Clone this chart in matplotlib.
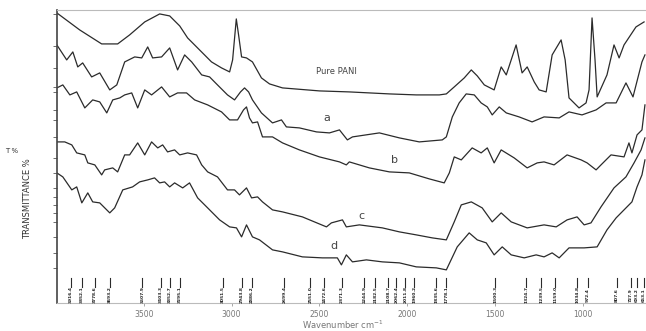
import matplotlib
matplotlib.use("Agg")
import matplotlib.pyplot as plt

# FTIR spectra, stacked
WN_PANI = [3994, 3864, 3739, 3648, 3580, 3494, 3409, 3352, 3295, 3250, 3182, 3114,
           3057, 3011, 2994, 2973, 2960, 2943, 2915, 2881, 2830, 2784, 2710, 2500,
           2330, 2102, 1949, 1818, 1778, 1733, 1676, 1636, 1602, 1562, 1506, 1466,
           1437, 1381, 1347, 1318, 1278, 1250, 1210, 1176, 1125, 1102, 1080, 1023,
           983, 966, 949, 932, 920, 864, 824, 795, 767, 699, 653]
T_PANI = [290, 273, 259, 259, 268, 281, 289, 287, 277, 265, 253, 241,
          235, 231, 243, 284, 268, 246, 245, 241, 225, 219, 215, 212,
          211, 209, 208, 208, 209, 216, 225, 233, 227, 218, 213, 236,
          228, 258, 230, 236, 221, 213, 211, 248, 263, 243, 205, 195,
          200, 213, 285, 243, 206, 228, 258, 245, 258, 276, 281]

WN_A = [3994, 3938, 3903, 3875, 3847, 3796, 3750, 3693, 3653, 3608, 3551, 3511,
        3477, 3449, 3398, 3352, 3307, 3267, 3227, 3170, 3125, 3080, 3023, 2983,
        2949, 2926, 2903, 2881, 2830, 2767, 2716, 2688, 2614, 2517, 2443, 2386,
        2341, 2312, 2159, 2045, 1932, 1801, 1778, 1744, 1705, 1665, 1619, 1580,
        1545, 1517, 1477, 1437, 1364, 1290, 1222, 1136, 1080, 1006, 926, 869,
        812, 756, 716, 665, 648]
T_A = [258, 243, 251, 236, 240, 226, 230, 213, 218, 241, 246, 245,
       256, 245, 246, 255, 233, 248, 241, 228, 226, 218, 208, 203,
       211, 215, 211, 203, 190, 180, 183, 176, 175, 171, 170, 173,
       163, 166, 170, 165, 161, 163, 166, 186, 200, 209, 208, 200,
       196, 188, 196, 190, 186, 181, 186, 185, 191, 188, 193, 200,
       200, 220, 206, 241, 248]

WN_B = [3994, 3960, 3920, 3881, 3835, 3790, 3750, 3710, 3676, 3636, 3608, 3568,
        3534, 3494, 3455, 3398, 3352, 3307, 3256, 3210, 3136, 3057, 3011, 2966,
        2932, 2915, 2898, 2881, 2852, 2824, 2767, 2710, 2614, 2500, 2386, 2347,
        2330, 2216, 2102, 1989, 1875, 1790, 1761, 1733, 1693, 1631, 1580, 1545,
        1506, 1466, 1392, 1318, 1261, 1222, 1165, 1091, 1011, 977, 926, 898,
        841, 767, 739, 722, 693, 665, 648]
T_B = [215, 218, 208, 211, 195, 203, 201, 190, 203, 205, 208, 210,
       195, 213, 208, 216, 206, 210, 210, 203, 198, 191, 183, 183,
       193, 196, 185, 180, 181, 166, 166, 160, 153, 146, 141, 138,
       141, 135, 131, 130, 124, 120, 130, 146, 143, 155, 150, 155,
       140, 153, 145, 135, 140, 141, 138, 148, 143, 140, 133, 138,
       148, 146, 160, 150, 168, 173, 198]

WN_C = [3994, 3949, 3909, 3881, 3835, 3818, 3778, 3739, 3722, 3676, 3648, 3608,
        3580, 3534, 3494, 3455, 3420, 3392, 3364, 3324, 3295, 3250, 3199, 3170,
        3136, 3080, 3023, 2983, 2955, 2915, 2886, 2852, 2824, 2767, 2710, 2597,
        2460, 2432, 2369, 2347, 2273, 2142, 2045, 1949, 1858, 1778, 1733, 1693,
        1636, 1574, 1517, 1466, 1409, 1318, 1222, 1153, 1091, 1034, 994, 955,
        898, 824, 756, 710, 670, 648]
T_C = [161, 161, 158, 150, 148, 140, 138, 128, 133, 135, 131, 148,
       148, 160, 148, 161, 155, 158, 151, 153, 148, 150, 148, 138,
       131, 126, 113, 113, 108, 115, 105, 106, 101, 93, 91, 86,
       76, 80, 83, 76, 78, 75, 71, 68, 65, 63, 81, 98,
       101, 95, 81, 90, 81, 75, 78, 76, 83, 86, 78, 80,
       96, 115, 126, 140, 153, 165]

WN_D = [3994, 3960, 3909, 3881, 3852, 3818, 3790, 3750, 3693, 3665, 3619, 3563,
        3523, 3477, 3438, 3409, 3381, 3352, 3324, 3278, 3239, 3193, 3136, 3068,
        3011, 2972, 2943, 2915, 2881, 2841, 2767, 2710, 2597, 2483, 2398, 2375,
        2347, 2312, 2233, 2142, 2045, 1949, 1835, 1778, 1716, 1648, 1602, 1551,
        1506, 1460, 1409, 1335, 1267, 1222, 1176, 1136, 1080, 994, 920, 864,
        812, 767, 722, 693, 665, 648]
T_D = [130, 126, 113, 116, 100, 110, 101, 100, 90, 95, 113, 116,
       121, 123, 125, 120, 121, 116, 120, 115, 120, 105, 95, 83,
       76, 75, 66, 78, 66, 63, 53, 51, 46, 45, 45, 38,
       48, 41, 43, 41, 40, 36, 35, 33, 56, 70, 63, 60,
       48, 56, 48, 45, 48, 46, 50, 45, 55, 55, 56, 73,
       85, 93, 101, 116, 128, 143]

CURVE_LABELS = ["Pure PANI", "a", "b", "c", "d"]
LABEL_WN = [2403, 2460, 2074, 2261, 2415]
LABEL_T = [231, 185, 143, 87, 57]

PEAKS = [3916, 3852, 3778, 3693, 3507, 3403, 3352, 3295, 3051, 2943, 2886,
         2699, 2551, 2472, 2371, 2244, 2182, 2108, 2062, 2011, 1960, 1835,
         1778, 1500, 1324, 1239, 1159, 1034, 972, 807, 727, 693, 653]
PEAK_TXT = ["3916.4", "3852.1", "3778.6", "3693.2", "3507.9", "3403.3", "3352.7",
            "3295.1", "3051.5", "2943.8", "2886.2", "2699.4", "2551.0", "2472.6",
            "2371.3", "2244.9", "2182.5", "2108.7", "2062.4", "2011.8", "1960.2",
            "1835.6", "1778.1", "1500.3", "1324.7", "1239.5", "1159.0", "1034.8",
            "972.4", "807.6", "727.9", "693.2", "653.1"]

XTICKS = [3500, 3000, 2500, 2000, 1500, 1000]
YTICKS = [289, 257, 235, 216, 211, 193, 183, 166, 145, 130, 115, 106, 98, 90,
          81, 66, 50, 35]

fig = plt.figure(figsize=(6.46, 3.31), dpi=100)
ax = fig.add_axes([0.088, 0.085, 0.912, 0.885])

ink = "#2b2b2b"
for wn, t in [(WN_PANI, T_PANI), (WN_A, T_A), (WN_B, T_B), (WN_C, T_C), (WN_D, T_D)]:
    ax.plot(wn, t, color=ink, lw=0.9)

for lab, x, y in zip(CURVE_LABELS, LABEL_WN, LABEL_T):
    ax.text(x, y, lab, fontsize=6 if len(lab) > 1 else 8, color="#444444",
            ha="center", va="center")

# peak markers along the bottom
for w, s in zip(PEAKS, PEAK_TXT):
    ax.plot([w, w], [16, 25], color=ink, lw=0.8)
    ax.text(w, 8, s, rotation=90, fontsize=3.2, ha="center", va="center",
            color="#222222", fontweight="bold")

ax.set_xlim(3994, 642)
ax.set_ylim(0, 293)
ax.set_xticks(XTICKS)
ax.set_xticklabels([str(v) for v in XTICKS], fontsize=5.5, color="#777777")
ax.tick_params(axis="x", length=2, width=0.6, color="#999999", pad=3)
ax.set_yticks(YTICKS)
ax.set_yticklabels([])
ax.tick_params(axis="y", length=3, width=0.6, color="#555555")

ax.spines["right"].set_visible(False)
ax.spines["top"].set_color("#bbbbbb")
ax.spines["bottom"].set_color("#bbbbbb")
ax.spines["left"].set_color("#444444")
ax.spines["left"].set_linewidth(1.2)

fig.text(0.53, 0.018, "Wavenumber cm$^{-1}$", fontsize=6, color="#777777",
         ha="center", va="center")
fig.text(0.043, 0.40, "TRANSMITTANCE %", rotation=90, fontsize=6,
         family="Liberation Sans Narrow", ha="center", va="center", color="#333333")
fig.text(0.018, 0.545, "T %", fontsize=5, ha="center", va="center", color="#333333")

fig.savefig("out.png")
